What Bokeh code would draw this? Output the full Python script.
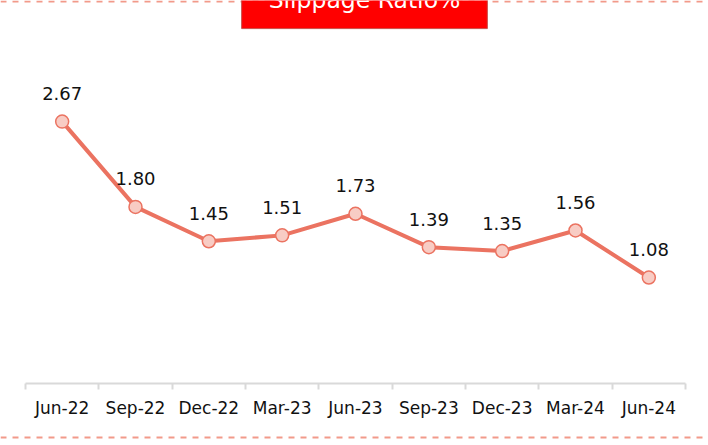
from bokeh.plotting import figure
from bokeh.models import Range1d, LinearAxis, FixedTicker, Span, Label, ColumnDataSource
from bokeh.embed import file_html
from bokeh.resources import INLINE
from bokeh.core.properties import value

periods = ["Jun-22", "Sep-22", "Dec-22", "Mar-23", "Jun-23", "Sep-23", "Dec-23", "Mar-24", "Jun-24"]
slippage = [2.67, 1.80, 1.45, 1.51, 1.73, 1.39, 1.35, 1.56, 1.08]
title_text = "Slippage Ratio%"

FONT = "DejaVu Sans"
LINE_COLOR = "#EB7361"
MARKER_FILL = "#F8CCC4"
DASH_COLOR = "#F29A8A"
AXIS_COLOR = "#D9D9D9"

n = len(periods)
xs = [i + 0.5 for i in range(n)]
labels = [f"{v:.2f}" for v in slippage]
src = ColumnDataSource(dict(x=xs, y=slippage, label=labels))

W, H = 708, 445
px_x = 660.0 / n          # pixels per category
px_y = 98.1               # pixels per unit
x0_px, y0_px = 25.0, 383.0
x_range = Range1d(-x0_px / px_x, (W - x0_px) / px_x)
y_range = Range1d(-(H - y0_px) / px_y, y0_px / px_y)

p = figure(width=W, height=H, output_backend="svg", toolbar_location=None,
           x_range=x_range, y_range=y_range,
           x_axis_location=None, y_axis_location=None,
           min_border=0, outline_line_color=None)
for g in p.grid:
    g.visible = False
p.background_fill_color = "white"
p.border_fill_color = "white"

ax = LinearAxis(fixed_location=0, bounds=(0, n),
                ticker=FixedTicker(ticks=xs, minor_ticks=list(range(n + 1))),
                major_label_overrides={x: lab for x, lab in zip(xs, periods)})
ax.axis_line_color = AXIS_COLOR
ax.axis_line_width = 2
ax.major_tick_line_color = None
ax.major_tick_in = 0
ax.major_tick_out = 0
ax.minor_tick_line_color = AXIS_COLOR
ax.minor_tick_line_width = 2
ax.minor_tick_in = 0
ax.minor_tick_out = 6
ax.major_label_text_font = FONT
ax.major_label_text_font_size = "17px"
ax.major_label_text_color = "#111111"
ax.major_label_standoff = 8
p.add_layout(ax, "below")

# dashed frame lines
p.add_layout(Span(location=(y0_px - 1) / px_y, dimension="width",
                  line_color=DASH_COLOR, line_dash="6 6", line_width=2))
p.add_layout(Span(location=-(437 - y0_px) / px_y, dimension="width",
                  line_color=DASH_COLOR, line_dash="6 6", line_width=2))

p.line("x", "y", source=src, line_color=LINE_COLOR, line_width=4)
p.scatter("x", "y", source=src, size=13, fill_color=MARKER_FILL,
          line_color=LINE_COLOR, line_width=1.5)
p.text("x", "y", text="label", source=src, text_align="center",
       text_baseline="middle", y_offset=-28, text_font=value(FONT),
       text_font_size="18px", text_color="#111111")

# title box, cut off at the top edge as in the reference
p.add_layout(Label(x=(364 - x0_px) / px_x, y=(y0_px - 0.6) / px_y,
                   text=title_text, text_align="center", text_baseline="alphabetic",
                   text_font=FONT, text_font_size="23.5px", text_color="white",
                   background_fill_color="#FF0000", border_line_color="#C8504A",
                   border_line_width=1, padding=(27, 27, 12, 15)))

open("out.html", "w").write(file_html(p, INLINE))
